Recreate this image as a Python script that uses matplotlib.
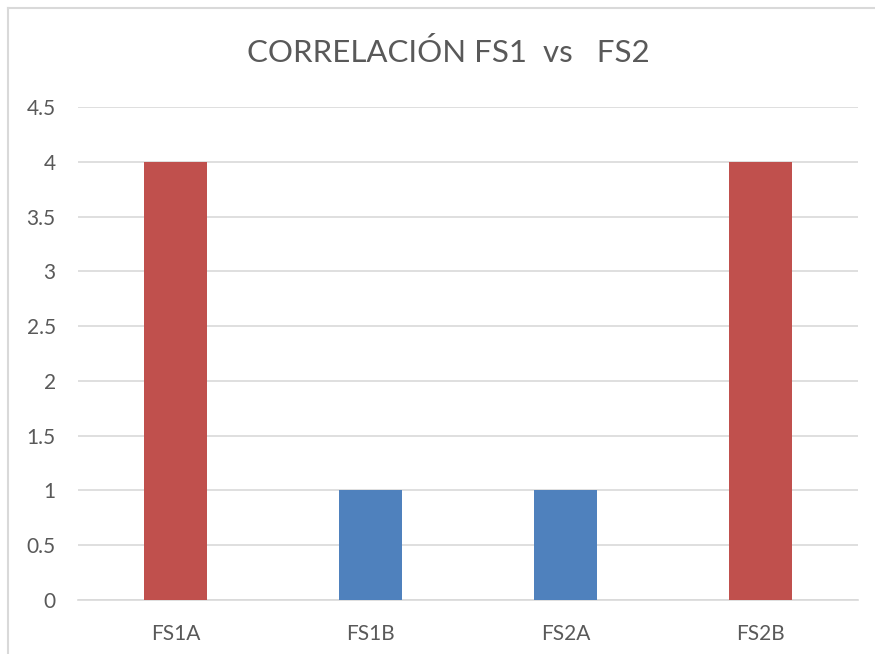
import matplotlib.pyplot as plt
from matplotlib.lines import Line2D

categories = ["FS1A", "FS1B", "FS2A", "FS2B"]
values = [4, 1, 1, 4]
bar_colors = ["#C0504D", "#4F81BD", "#4F81BD", "#C0504D"]
y_ticks = [0, 0.5, 1, 1.5, 2, 2.5, 3, 3.5, 4, 4.5]

plt.rcParams['font.family'] = ['Lato', 'DejaVu Sans']
text_color = "#595959"
grid_color = "#D9D9D9"

W, H = 875, 654
fig = plt.figure(figsize=(W / 100, H / 100), dpi=100)
ax = fig.add_axes([78 / W, 1 - 600 / H, (858 - 78) / W, (600 - 107) / H])

x = range(len(categories))
ax.bar(x, values, width=0.32, color=bar_colors, zorder=3)

ax.set_xlim(-0.5, len(categories) - 0.5)
ax.set_ylim(0, 4.5)
ax.set_yticks(y_ticks)
ax.set_yticklabels([f"{v:g}" for v in y_ticks])
ax.set_xticks(list(x))
ax.set_xticklabels(categories)

ax.grid(axis="y", color=grid_color, linewidth=1.2, zorder=0)
for side in ["top", "right", "left"]:
    ax.spines[side].set_visible(False)
ax.spines["bottom"].set_color(grid_color)
ax.spines["bottom"].set_linewidth(1.2)
ax.tick_params(axis="both", length=0, labelsize=15, colors=text_color)
ax.tick_params(axis="y", pad=16)
ax.tick_params(axis="x", pad=17)

fig.text(448 / W, 1 - 52 / H, "CORRELACIÓN FS1  vs   FS2", ha="center", va="center",
         fontsize=22.5, color=text_color)

# outer chart frame (left and top edges)
fig.add_artist(Line2D([7.5 / W, 7.5 / W], [0, 1 - 7.5 / H], color=grid_color, linewidth=1.5))
fig.add_artist(Line2D([7.5 / W, 1], [1 - 7.5 / H, 1 - 7.5 / H], color=grid_color, linewidth=1.5))

fig.savefig("out.png", dpi=100)
